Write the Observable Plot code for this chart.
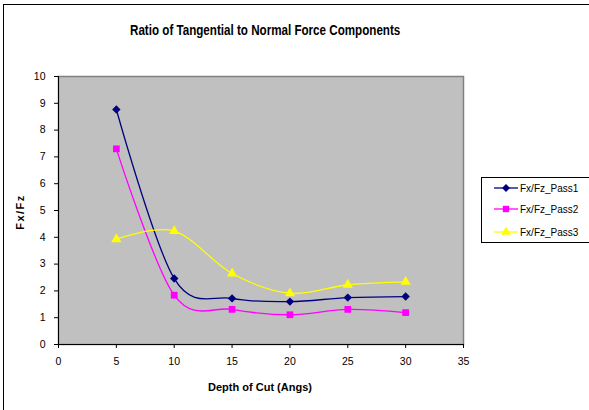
<!DOCTYPE html>
<html>
<head>
<meta charset="utf-8">
<script src="https://cdn.jsdelivr.net/npm/d3@7"></script>
<script src="https://cdn.jsdelivr.net/npm/@observablehq/plot@0.6"></script>
<style>
  html, body { margin: 0; padding: 0; background: #fff; overflow: hidden; }
  #wrap { position: relative; width: 589px; height: 410px; overflow: hidden; font-family: "Liberation Sans", Arial, sans-serif; }
  #outer { position: absolute; left: 3px; top: 4px; width: 620px; height: 440px; border: 1px solid #000; box-sizing: border-box; }
  #title { position: absolute; left: 130px; top: 22px; font-weight: bold; font-size: 14px; white-space: nowrap; transform-origin: 0 50%; transform: scaleX(0.83); }
  #xlabel { position: absolute; left: 160px; width: 200px; top: 381px; text-align: center; font-weight: bold; font-size: 11px; }
  #ylabel { position: absolute; left: 20px; top: 212px; width: 0; height: 0; }
  #ylabel span { position: absolute; transform: translate(-50%, -50%) rotate(-90deg); white-space: nowrap; font-weight: bold; font-size: 11px; letter-spacing: 1.5px; }
  #plot { position: absolute; left: 0; top: 0; }
  #legend { position: absolute; left: 481px; top: 177px; }
</style>
</head>
<body>
<div id="wrap">
  <div id="outer"></div>
  <div id="plot"></div>
  <div id="title">Ratio of Tangential to Normal Force Components</div>
  <div id="xlabel">Depth of Cut (Angs)</div>
  <div id="ylabel"><span>Fx/Fz</span></div>
  <div id="legend"></div>
</div>
<script>
const depth = [5, 10, 15, 20, 25, 30];
const pass1 = [8.77, 2.46, 1.72, 1.60, 1.75, 1.79];
const pass2 = [7.30, 1.84, 1.31, 1.11, 1.31, 1.19];
const pass3 = [3.93, 4.23, 2.65, 1.91, 2.23, 2.34];
const seriesNames = ["Fx/Fz_Pass1", "Fx/Fz_Pass2", "Fx/Fz_Pass3"];
const seriesColors = ["#000080", "#FF00FF", "#FFFF00"];
const seriesSymbols = ["diamond2", "square", "triangle"];
const xTicks = [0, 5, 10, 15, 20, 25, 30, 35];
const yTicks = [0, 1, 2, 3, 4, 5, 6, 7, 8, 9, 10];

const allValues = [pass1, pass2, pass3];
const rows = [];
allValues.forEach((vals, s) => {
  vals.forEach((v, i) => rows.push({series: seriesNames[s], depth: depth[i], value: v}));
});

const chart = Plot.plot({
  width: 589,
  height: 410,
  marginLeft: 58,
  marginRight: 126,
  marginTop: 76,
  marginBottom: 66,
  style: {fontFamily: "'Liberation Sans', Arial, sans-serif", fontSize: "10.5px", color: "#000", background: "transparent"},
  x: {domain: [0, 35], label: null},
  y: {domain: [0, 10], label: null},
  color: {domain: seriesNames, range: seriesColors},
  symbol: {domain: seriesNames, range: seriesSymbols},
  marks: [
    Plot.frame({fill: "#C0C0C0", stroke: "#808080", strokeWidth: 1.5}),
    Plot.ruleX([0], {stroke: "#000"}),
    Plot.ruleY([0], {stroke: "#000"}),
    Plot.axisX({ticks: xTicks, tickSize: 4, tickPadding: 9, label: null, tickFormat: d => String(d)}),
    Plot.axisY({ticks: yTicks, tickSize: 4, tickPadding: 9, label: null, tickFormat: d => String(d)}),
    Plot.line(rows, {x: "depth", y: "value", z: "series", stroke: "series", strokeWidth: 1.3, curve: "cardinal"}),
    Plot.dot(rows, {x: "depth", y: "value", fill: "series", symbol: "series", r: 3.8, stroke: "none"})
  ]
});
document.getElementById("plot").appendChild(chart);

// Legend
const lg = d3.select("#legend").append("svg").attr("width", 110).attr("height", 70)
  .style("overflow", "visible");
lg.append("rect").attr("x", 0.5).attr("y", 0.5).attr("width", 120).attr("height", 65)
  .attr("fill", "#fff").attr("stroke", "#000");
const rowY = [11, 32, 55];
const symMap = {diamond2: d3.symbolDiamond2, square: d3.symbolSquare, triangle: d3.symbolTriangle};
seriesNames.forEach((name, i) => {
  const g = lg.append("g").attr("transform", `translate(0,${rowY[i]})`);
  g.append("line").attr("x1", 13).attr("x2", 37).attr("y1", 0).attr("y2", 0)
    .attr("stroke", seriesColors[i]).attr("stroke-width", 1.3);
  g.append("path").attr("transform", "translate(25,0)")
    .attr("d", d3.symbol(symMap[seriesSymbols[i]], Math.PI * 3.6 * 3.6)())
    .attr("fill", seriesColors[i]);
  g.append("text").attr("x", 39).attr("y", 0).attr("dy", "0.35em")
    .attr("font-family", "'Liberation Sans', Arial, sans-serif").attr("font-size", "10px")
    .text(name);
});
</script>
</body>
</html>
